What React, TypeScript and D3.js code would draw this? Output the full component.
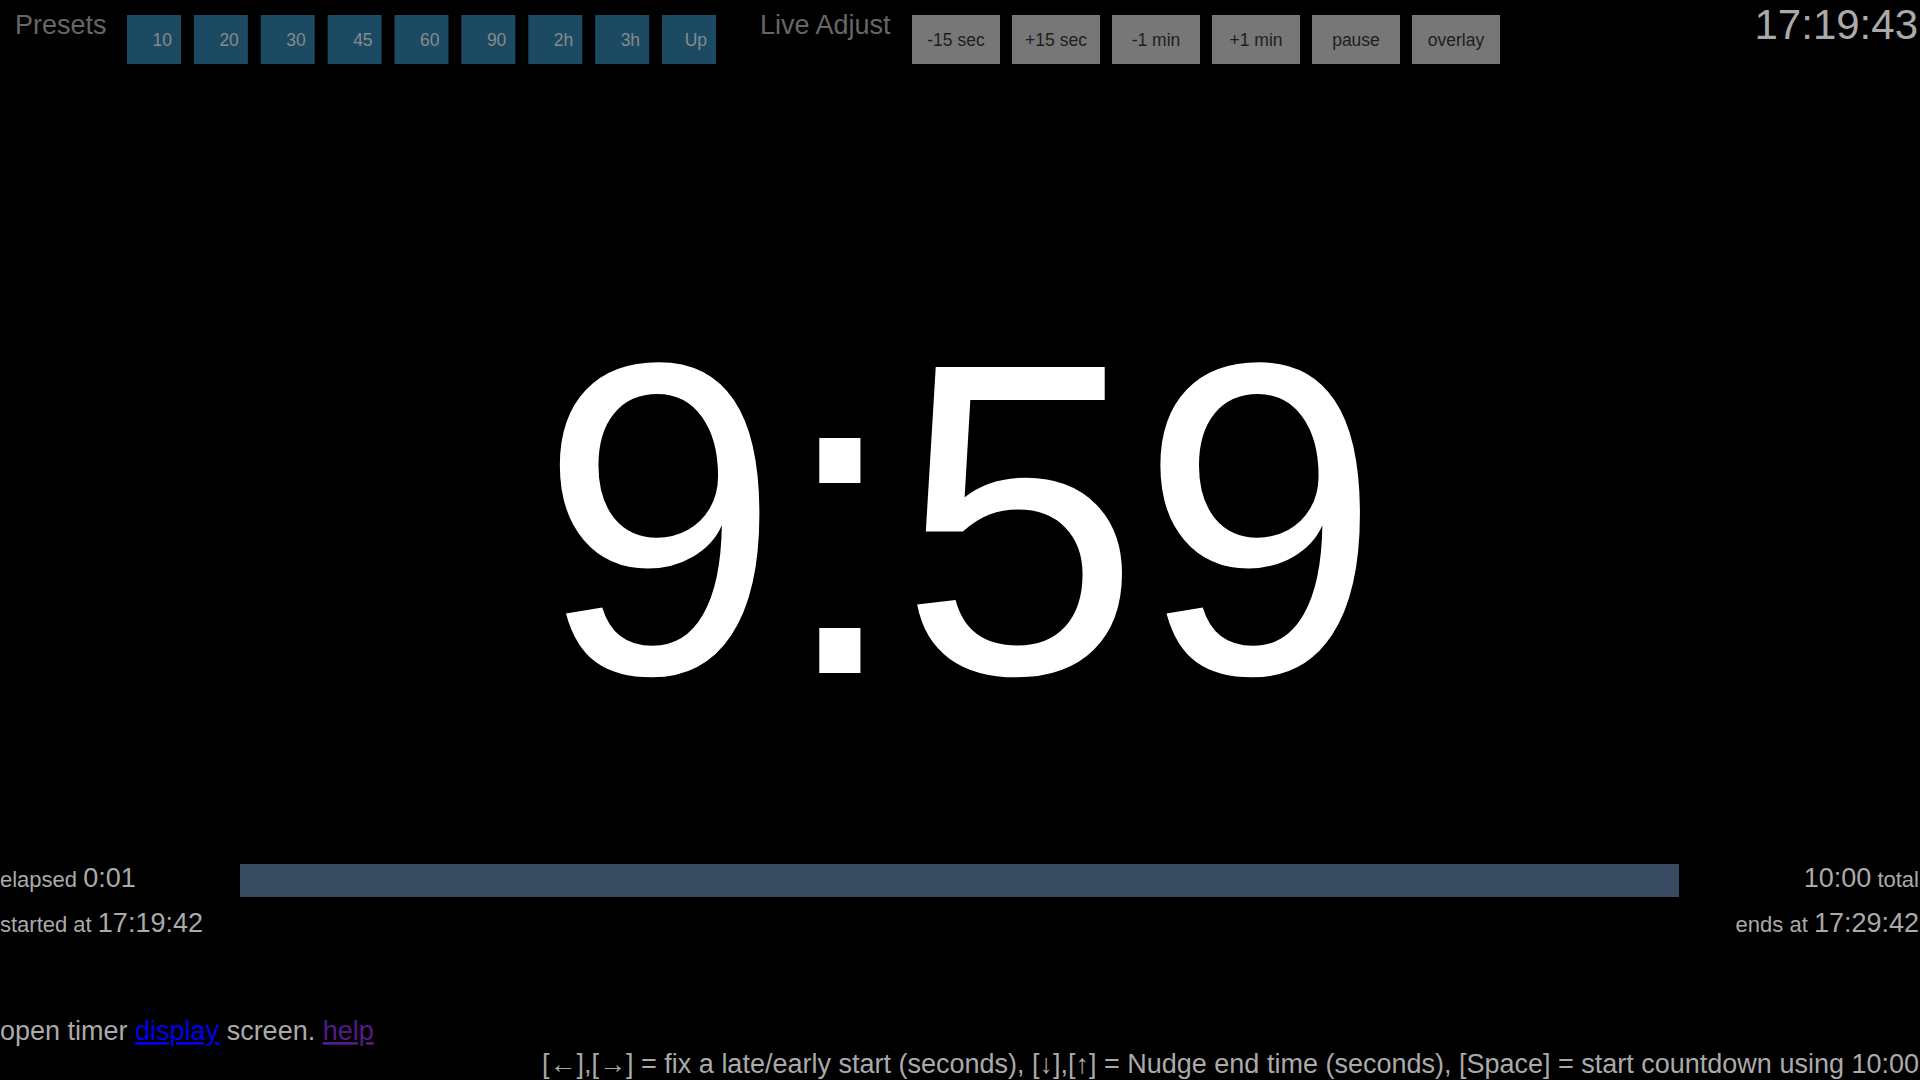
import React from "react";
import * as d3 from "d3";

// values
const presets = ["10", "20", "30", "45", "60", "90", "2h", "3h", "Up"];
const adjusts = ["-15 sec", "+15 sec", "-1 min", "+1 min", "pause", "overlay"];
const clockNow = "17:19:43";
const remaining = "9:59";
const totalSeconds = 600;
const elapsedSeconds = 1;
const elapsedLabel = "0:01";
const totalLabel = "10:00";
const startedAt = "17:19:42";
const endsAt = "17:29:42";
const helpLine =
  "[←],[→] = fix a late/early start (seconds), [↓],[↑] = Nudge end time (seconds), [Space] = start countdown using 10:00";

const W = 1920;
const H = 1080;
const FONT = "'Liberation Sans', Arial, Helvetica, sans-serif";
const GREY = "#aaaaaa";
const DIM = "#666666";

const App = () => {
  const presetX = d3
    .scaleBand<string>()
    .domain(presets)
    .range([127, 716])
    .paddingInner(0.193)
    .paddingOuter(0);

  const adjustX = d3
    .scaleBand<string>()
    .domain(adjusts)
    .range([912, 1500])
    .paddingInner(0.12)
    .paddingOuter(0);

  const progX = d3.scaleLinear().domain([0, totalSeconds]).range([240, 1679]);

  const btnTop = 15;
  const btnH = 49;

  return (
    <svg
      width={W}
      height={H}
      style={{ position: "fixed", left: 0, top: 0, display: "block", background: "#000" }}
      fontFamily={FONT}
    >
      <rect x={0} y={0} width={W} height={H} fill="#000" />

      {/* top bar */}
      <text x={15} y={34} fontSize={27} fill={DIM}>
        Presets
      </text>
      {presets.map((p) => (
        <g key={p}>
          <rect x={presetX(p)} y={btnTop} width={presetX.bandwidth()} height={btnH} fill="#1b4a62" />
          <text
            x={(presetX(p) as number) + presetX.bandwidth() - 9}
            y={46}
            fontSize={17.5}
            fill="#868b8e"
            textAnchor="end"
          >
            {p}
          </text>
        </g>
      ))}

      <text x={760} y={34} fontSize={27} fill={DIM}>
        Live Adjust
      </text>
      {adjusts.map((a) => (
        <g key={a}>
          <rect x={adjustX(a)} y={btnTop} width={adjustX.bandwidth()} height={btnH} fill="#777777" />
          <text
            x={(adjustX(a) as number) + adjustX.bandwidth() / 2}
            y={46}
            fontSize={17.5}
            fill="#1e1e1e"
            textAnchor="middle"
          >
            {a}
          </text>
        </g>
      ))}

      <text x={1918} y={39} fontSize={42} fill={GREY} textAnchor="end">
        {clockNow}
      </text>

      {/* countdown, the original face is a touch narrower so stretch it a bit */}
      <g transform="translate(960,673) scale(1,1.03)">
        <text x={0} y={0} fontSize={432} fill="#ffffff" textAnchor="middle">
          {remaining}
        </text>
      </g>

      {/* progress */}
      <rect x={progX(0)} y={864} width={progX(totalSeconds) - progX(0)} height={33} fill="#374a60" />
      <rect
        x={progX(0)}
        y={864}
        width={progX(elapsedSeconds) - progX(0)}
        height={33}
        fill="#374a60"
      />

      <text x={0} y={887} fill={GREY}>
        <tspan fontSize={22}>elapsed </tspan>
        <tspan fontSize={27}>{elapsedLabel}</tspan>
      </text>
      <text x={0} y={932} fill={GREY}>
        <tspan fontSize={22}>started at </tspan>
        <tspan fontSize={27}>{startedAt}</tspan>
      </text>

      <text x={1919} y={887} fill={GREY} textAnchor="end">
        <tspan fontSize={27}>{totalLabel}</tspan>
        <tspan fontSize={22}> total</tspan>
      </text>
      <text x={1919} y={932} fill={GREY} textAnchor="end">
        <tspan fontSize={22}>ends at </tspan>
        <tspan fontSize={27}>{endsAt}</tspan>
      </text>

      {/* footer */}
      <text x={0} y={1040} fontSize={27} fill={GREY}>
        <tspan>open timer </tspan>
        <tspan fill="#0000ee" textDecoration="underline">display</tspan>
        <tspan> screen. </tspan>
        <tspan fill="#551a8b" textDecoration="underline">help</tspan>
      </text>
      <text x={1919} y={1073} fontSize={27} fill={GREY} textAnchor="end">
        {helpLine}
      </text>
    </svg>
  );
};

export default App;
